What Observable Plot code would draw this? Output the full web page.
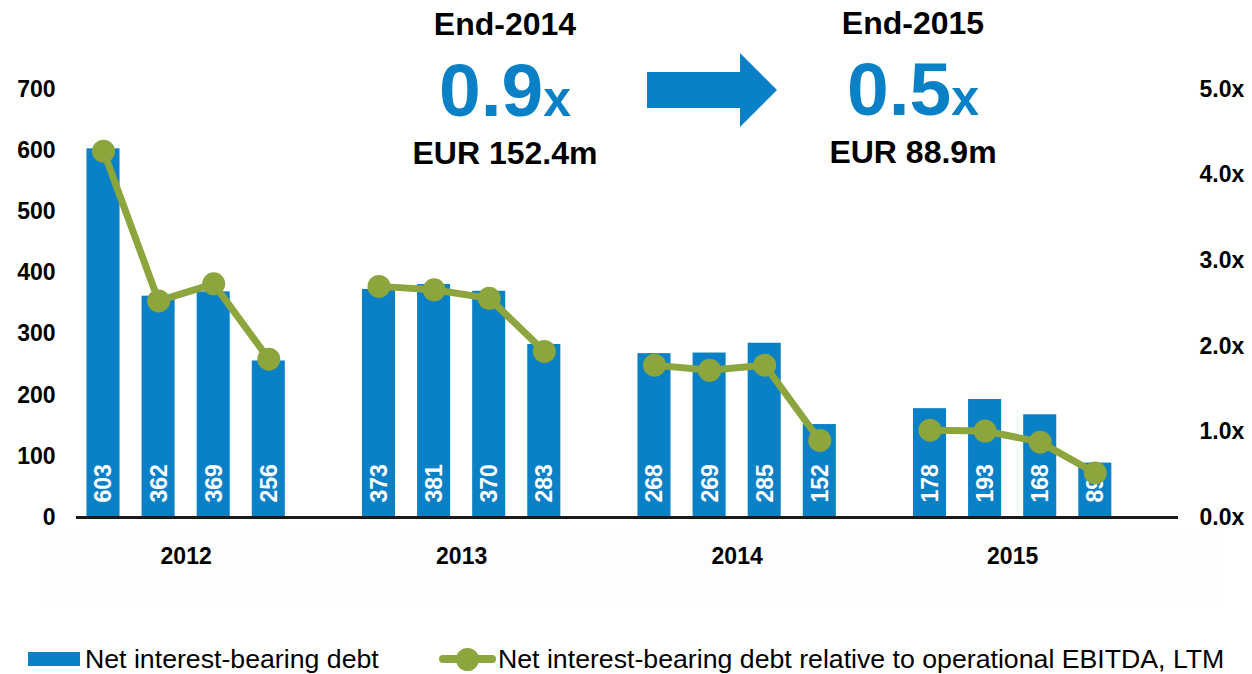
<!DOCTYPE html>
<html>
<head>
<meta charset="utf-8">
<script src="https://cdn.jsdelivr.net/npm/d3@7"></script>
<script src="https://cdn.jsdelivr.net/npm/@observablehq/plot@0.6"></script>
<style>
  body { margin:0; width:1252px; height:674px; position:relative; overflow:hidden; background:#fff;
         font-family:"Liberation Sans", Arial, sans-serif; }
  #bg { position:absolute; left:42px; top:530px; width:1182px; height:78px; background:#fdfdfd; }
  #chart { position:absolute; left:0; top:0; }
  .hd { position:absolute; width:320px; text-align:center; font-weight:bold; color:#000; white-space:nowrap; }
  .t1 { font-size:32px; line-height:32px; }
  .big { font-size:75px; line-height:75px; color:#0A80C6; }
  .big span { font-size:50px; }
  #arrowBody { position:absolute; left:647px; top:72px; width:94px; height:36px; background:#0A80C6; }
  #arrowHead { position:absolute; left:740px; top:53px; width:0; height:0;
               border-left:37px solid #0A80C6; border-top:37px solid transparent; border-bottom:37px solid transparent; }
  .lg { position:absolute; font-size:26.7px; line-height:26px; color:#000; white-space:nowrap; }
</style>
</head>
<body>
<div id="bg"></div>
<div id="chart"></div>

<div class="hd t1" style="left:345px; top:8px;">End-2014</div>
<div class="hd big" style="left:345px; top:53px;">0.9<span>x</span></div>
<div class="hd t1" style="left:345px; top:137px;">EUR 152.4m</div>
<div id="arrowBody"></div>
<div id="arrowHead"></div>
<div class="hd t1" style="left:753px; top:7px;">End-2015</div>
<div class="hd big" style="left:753px; top:52px;">0.5<span>x</span></div>
<div class="hd t1" style="left:753px; top:136px;">EUR 88.9m</div>

<div style="position:absolute; left:28px; top:652px; width:52px; height:14px; background:#0A80C6;"></div>
<div class="lg" style="left:85px; top:646px;">Net interest-bearing debt</div>
<div style="position:absolute; left:439px; top:655px; width:57px; height:8px; background:#8CA53C; border-radius:4px;"></div>
<div style="position:absolute; left:456px; top:648px; width:23px; height:23px; background:#8CA53C; border-radius:50%;"></div>
<div class="lg" style="left:498px; top:646px;">Net interest-bearing debt relative to operational EBITDA, LTM</div>

<script>
const years = ["2012", "2013", "2014", "2015"];
const debt = [603, 362, 369, 256, 373, 381, 370, 283, 268, 269, 285, 152, 178, 193, 168, 89];
const ratio = [4.28, 2.53, 2.73, 1.85, 2.70, 2.66, 2.56, 1.94, 1.78, 1.72, 1.78, 0.90, 1.02, 1.01, 0.88, 0.52];
const leftTicks = [0, 100, 200, 300, 400, 500, 600, 700];
const rightTicks = [0, 1, 2, 3, 4, 5];

const perYear = 4;
const slotsPerGroup = perYear + 1;
const factor = leftTicks[leftTicks.length - 1] / rightTicks[rightTicks.length - 1];

const rows = debt.map((v, i) => {
  const yi = Math.floor(i / perYear), q = i % perYear;
  return { year: years[yi], slot: yi * slotsPerGroup + q, debt: v, ratio: ratio[i] };
});
const yearRows = years.map((y, yi) => ({ year: y, mid: yi * slotsPerGroup + (perYear - 1) / 2 }));

const BLUE = "#0A80C6", GREEN = "#8CA53C";
const lastSlot = (years.length - 1) * slotsPerGroup + perYear - 1;

const chart = Plot.plot({
  width: 1252,
  height: 640,
  marginTop: 89,
  marginBottom: 123,
  marginLeft: 76,
  marginRight: 74,
  style: { background: "transparent", overflow: "visible", fontFamily: "'Liberation Sans', Arial, sans-serif" },
  x: { domain: [-0.49, lastSlot + 1.51], label: null },
  y: { domain: [0, leftTicks[leftTicks.length - 1]], label: null },
  marks: [
    Plot.rectY(rows, { x1: d => d.slot - 0.3, x2: d => d.slot + 0.3, y: "debt", fill: BLUE }),
    Plot.ruleY([0], { stroke: "#1a1a1a", strokeWidth: 3 }),
    Plot.text(rows, {
      x: "slot", frameAnchor: "bottom", text: d => String(d.debt), rotate: -90,
      textAnchor: "start", dx: 8, dy: -15, fill: "white", fontSize: 23, fontWeight: "bold"
    }),
    Plot.line(rows, { x: "slot", y: d => d.ratio * factor, z: "year", stroke: GREEN, strokeWidth: 7, strokeLinejoin: "round" }),
    Plot.dot(rows, { x: "slot", y: d => d.ratio * factor, r: 11.5, fill: GREEN, stroke: null }),
    Plot.axisY(leftTicks, { anchor: "left", tickSize: 0, tickPadding: 21, fontSize: 23, fontWeight: "bold", fill: "#000", label: null }),
    Plot.axisY(rightTicks.map(t => t * factor), {
      anchor: "right", tickSize: 0, tickPadding: 21, fontSize: 23, fontWeight: "bold", fill: "#000", label: null,
      tickFormat: d => (d / factor).toFixed(1) + "x"
    }),
    Plot.axisX(yearRows.map(d => d.mid), {
      anchor: "bottom", tickSize: 0, tickPadding: 30, fontSize: 23, fontWeight: "bold", fill: "#000", label: null,
      tickFormat: m => yearRows.find(d => d.mid === m).year
    })
  ]
});
document.getElementById("chart").appendChild(chart);
</script>
</body>
</html>
